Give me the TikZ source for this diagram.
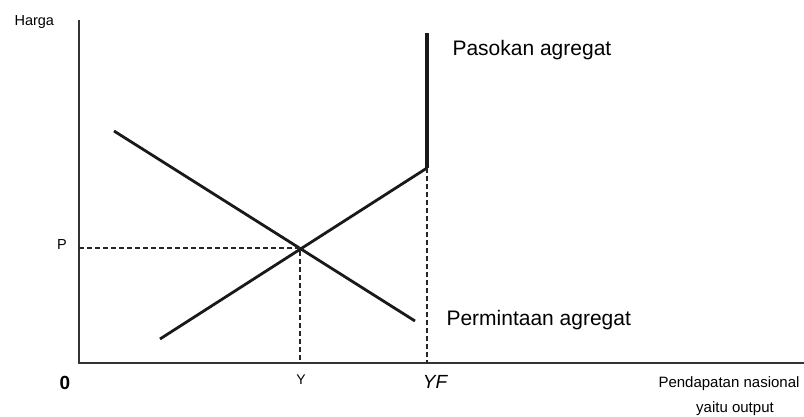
\documentclass[tikz,border=0pt]{standalone}
\usepackage{fontspec}
\setmainfont{Liberation Sans}
\usetikzlibrary{positioning}

\begin{document}
\begin{tikzpicture}[
    x=1pt, y=-1pt,
    axis/.style={line width=2.2pt, black!80},
    curve/.style={line width=2.8pt, black!90},
    guide/.style={line width=2pt, black!85, dash pattern=on 5pt off 3pt},
    big/.style={font=\fontsize{21}{25}\selectfont},
    small/.style={font=\fontsize{14.5}{17}\selectfont}
]
    \useasboundingbox (0,0) rectangle (804,417);

    % --- Sumbu ---
    \coordinate (origin) at (79,363);
    \coordinate (ytop)   at (79,20);
    \coordinate (xend)   at (804,363);
    \draw[axis] (ytop) -- (origin) -- (xend);

    % --- Kurva ---
    \coordinate (adA) at (114,131);
    \coordinate (adB) at (415,321);
    \coordinate (asA) at (160,339);
    \coordinate (asK) at (427,168);
    \coordinate (asT) at (427,33);
    \coordinate (eq)  at (300,248);
    \draw[curve] (adA) -- (adB);
    \draw[curve] (asA) -- (asK);
    \draw[curve, line width=3.2pt] (asK) -- (asT);

    % --- Garis bantu ---
    \coordinate (pAx)  at (79,248);
    \coordinate (yAx)  at (300,363);
    \coordinate (yfAx) at (427,363);
    \draw[guide] (pAx) -- (eq) -- (yAx);
    \draw[guide] (asK) -- (yfAx);

    % --- Label ---
    \node[small, anchor=base west] (harga) at (11,26) {Harga};
    \node[small, anchor=base] (plbl) at (62,250) {P};
    \node[font=\fontsize{19}{22}\selectfont\bfseries, anchor=base] (zero) at (65,389) {0};
    \node[font=\fontsize{14}{16}\selectfont, anchor=base] (ylbl) at (301,384) {Y};
    \node[font=\fontsize{19}{22}\selectfont\itshape, anchor=base] (yflbl) at (435,388) {YF};
    \node[big, anchor=base west] (aslbl) at (449,56) {Pasokan agregat};
    \node[big, anchor=base west] (adlbl) at (443,325) {Permintaan agregat};
    \node[font=\fontsize{15}{18}\selectfont, anchor=base] (xlbl1) at (729,387) {Pendapatan nasional};
    \node[font=\fontsize{15}{18}\selectfont, anchor=base] (xlbl2) at (735,412) {yaitu output};

\end{tikzpicture}
\end{document}
